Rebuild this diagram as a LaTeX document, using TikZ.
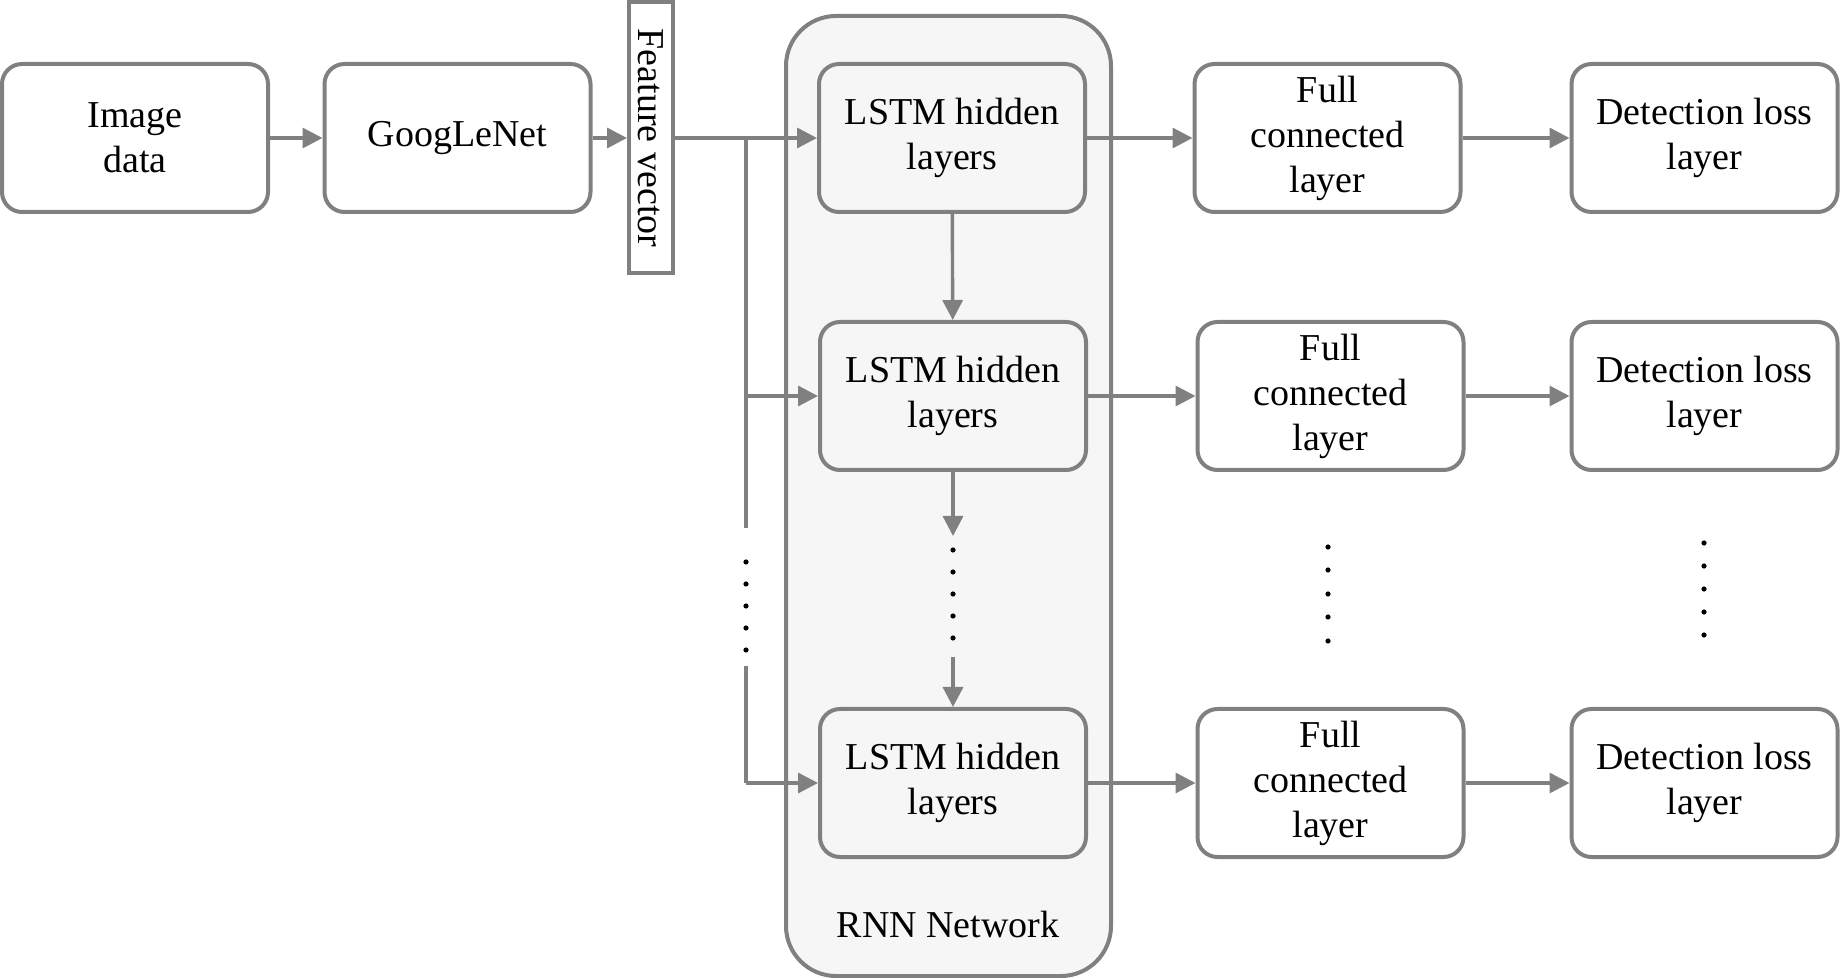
\documentclass[tikz,border=0pt]{standalone}
\usepackage{fontspec}
\setmainfont{Liberation Serif}
\usetikzlibrary{calc}
\usetikzlibrary{arrows.meta}

\begin{document}
\begin{tikzpicture}[x=0.5pt, y=-0.5pt,
  box/.style={draw=gray, line width=2pt, rounded corners=10pt, fill=white, minimum width=133pt, minimum height=74pt, align=center, inner sep=0, font=\fontsize{19}{22.5}\selectfont},
  lstmbox/.style={box, fill=gray!7},
  link/.style={draw=gray, line width=1.7pt, -{Triangle[length=10pt,width=10pt]}},
  bus/.style={draw=gray, line width=1.7pt}]

\useasboundingbox (0,0) rectangle (1844,978);

% RNN container
\node[draw=gray, line width=2pt, rounded corners=25pt, fill=gray!7, minimum width=162.5pt, minimum height=480pt] (rnn) at (948.5,496) {};
\node[font=\fontsize{19}{22.5}\selectfont] (rnnlabel) at (948,925) {RNN Network};

\node[box] (img) at (135,138) {Image\\data};
\node[box] (goog) at (457.5,138) {GoogLeNet};
\node[draw=gray, line width=2pt, fill=white, minimum width=135.5pt, minimum height=22pt, inner sep=0, rotate=-90, font=\fontsize{19}{22.5}\selectfont] (fv) at (651,138) {Feature vector};

\node[lstmbox] (lstm1) at (952,138) {LSTM hidden\\layers};
\node[lstmbox] (lstm2) at (953,396) {LSTM hidden\\layers};
\node[lstmbox] (lstm3) at (953,783) {LSTM hidden\\layers};

\node[box] (fc1) at (1327.5,138) {Full\\connected\\layer};
\node[box] (fc2) at (1330.5,396) {Full\\connected\\layer};
\node[box] (fc3) at (1330.5,783) {Full\\connected\\layer};

\node[box] (det1) at (1704.5,138) {Detection loss\\layer};
\node[box] (det2) at (1704.5,396) {Detection loss\\layer};
\node[box] (det3) at (1704.5,783) {Detection loss\\layer};

\draw[link] (img) -- (goog);
\draw[link] (goog) -- (fv);
\draw[link] (fv) -- (lstm1);

% input bus
\coordinate (b1) at (746,138);
\coordinate (b2) at (746,528);
\coordinate (b3) at (746,666);
\coordinate (b4) at (746,783);
\coordinate (b5) at (746,396);
\draw[bus] (b1) -- (b2);
\draw[bus] (b3) -- (b4);
\draw[link] (b5) -- (lstm2);
\draw[link] (b4) -- (lstm3);

% recurrent chain
\coordinate (c1) at (953,536);
\coordinate (c2) at (953,657);
\draw[link] (lstm1) -- (lstm2);
\draw[link] (lstm2) -- (c1);
\draw[link] (c2) -- (lstm3);

\draw[link] (lstm1) -- (fc1);
\draw[link] (lstm2) -- (fc2);
\draw[link] (lstm3) -- (fc3);
\draw[link] (fc1) -- (det1);
\draw[link] (fc2) -- (det2);
\draw[link] (fc3) -- (det3);

% dots
\foreach \y in {562,584,606,628,650} \fill (746,\y) circle (1.3pt);
\foreach \y in {550,572,594,616,638} \fill (953,\y) circle (1.3pt);
\foreach \y in {547,570,594,617,641} \fill (1328,\y) circle (1.3pt);
\foreach \y in {543,566,589,612,635} \fill (1704,\y) circle (1.3pt);

\end{tikzpicture}
\end{document}
